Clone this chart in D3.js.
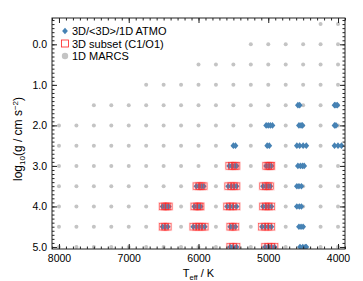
<!DOCTYPE html>
<html>
<head>
<meta charset="utf-8">
<script src="https://cdnjs.cloudflare.com/ajax/libs/d3/7.8.5/d3.min.js"></script>
<style>
body { margin: 0; background: #fff; }
svg text { font-family: "Liberation Sans", Arial, Helvetica, sans-serif; fill: #000; }
</style>
</head>
<body>
<div id="chart"></div>
<script>
// 1D MARCS grid: each row runs from its hottest Teff down to 4000 K
var marcsLogg = [-0.5, 0.0, 0.5, 1.0, 1.5, 2.0, 2.5, 3.0, 3.5, 4.0, 4.5, 5.0];
var marcsTmax = [4250, 5250, 6000, 6750, 7500, 8000, 8000, 8000, 8000, 8000, 8000, 8000];
var marcsTeff = [8000, 7750, 7500, 7250, 7000, 6750, 6500, 6250, 6000,
                 5750, 5500, 5250, 5000, 4750, 4500, 4250, 4000];

// 3D/<3D>/1D ATMO models, one Teff list per logg row
var atmoLogg = [1.5, 2.0, 2.5, 3.0, 3.5, 4.0, 4.5, 5.0];
var atmoTeff = [
  [4575, 4550, 4050, 4030, 4010],
  [5030, 5000, 4970, 4940, 4560, 4530, 4510, 4050, 4030],
  [5500, 5470, 5015, 4985, 4590, 4550, 4500, 4455, 4050, 4000, 3950],
  [5560, 5520, 5480, 5455, 5030, 5000, 4975, 4955, 4575, 4540, 4510, 4485],
  [6030, 5990, 5955, 5925, 5575, 5530, 5490, 5455, 5075, 5035, 5000, 4970, 4590, 4560, 4525],
  [6515, 6480, 6450, 6425, 6060, 6020, 5990, 5970, 5590, 5550, 5510, 5455, 5075, 5035, 4995, 4955, 4590, 4555, 4525],
  [6515, 6480, 6440, 6075, 6030, 5990, 5950, 5910, 5545, 5510, 5470, 5090, 5045, 5000, 4955, 4560, 4530, 4500],
  [5545, 5505, 5455, 5045, 5000, 4955, 4910, 4545, 4505, 4470, 4455]
];

// 3D subset (C1/O1)
var subsetLogg = [3.0, 3.5, 4.0, 4.5, 5.0];
var subsetTeff = [
  [5560, 5520, 5480, 5455, 5030, 5000, 4975, 4955],
  [6030, 5990, 5955, 5925, 5575, 5530, 5490, 5455, 5075, 5035, 5000, 4970],
  [6515, 6480, 6450, 6425, 6060, 6020, 5990, 5970, 5590, 5550, 5510, 5455, 5075, 5035, 4995, 4955],
  [6515, 6480, 6440, 6075, 6030, 5990, 5950, 5910, 5545, 5510, 5470, 5090, 5045, 5000, 4955],
  [5545, 5505, 5455, 5045, 5000, 4955, 4910]
];

var legendLabels = ['3D/<3D>/1D ATMO', '3D subset (C1/O1)', '1D MARCS'];
var xTicks = [8000, 7000, 6000, 5000, 4000];
var yTicks = [0, 1, 2, 3, 4, 5];

var w = 363, h = 281;
var mLeft = 52, mRight = 345, mTop = 18, mBottom = 249;
var blue = '#4682b4', red = '#f22', grey = '#c4c4c4';

var svg = d3.select('#chart').append('svg')
            .attr('width', w)
            .attr('height', h);

var xScale = d3.scaleLinear().domain([8100, 3900]).range([mLeft, mRight]);
var yScale = d3.scaleLinear().domain([-0.65, 5.05]).range([mTop, mBottom]);

// flatten rows into points
var marcs = [];
marcsLogg.forEach(function(g, i) {
  marcsTeff.filter(t => t <= marcsTmax[i]).forEach(t => marcs.push({t: t, g: g}));
});
var atmo = [];
atmoLogg.forEach((g, i) => atmoTeff[i].forEach(t => atmo.push({t: t, g: g})));
var subset = [];
subsetLogg.forEach((g, i) => subsetTeff[i].forEach(t => subset.push({t: t, g: g})));

var diamond = {
  draw: function(ctx, size) {
    var a = 2.9, b = 3.3;
    ctx.moveTo(0, -b); ctx.lineTo(a, 0); ctx.lineTo(0, b); ctx.lineTo(-a, 0); ctx.closePath();
  }
};
var diamondPath = d3.symbol().type(diamond)();

// clip marks to the frame
svg.append('clipPath').attr('id', 'clip')
   .append('rect').attr('x', mLeft).attr('y', mTop)
   .attr('width', mRight - mLeft).attr('height', mBottom - mTop);

var plot = svg.append('g').attr('clip-path', 'url(#clip)');

plot.selectAll('circle.marcs')
  .data(marcs)
  .enter()
  .append('circle')
  .attr('class', 'marcs')
  .attr('cx', d => xScale(d.t))
  .attr('cy', d => yScale(d.g))
  .attr('r', 2)
  .attr('fill', grey);

plot.selectAll('path.atmo')
  .data(atmo)
  .enter()
  .append('path')
  .attr('class', 'atmo')
  .attr('d', diamondPath)
  .attr('transform', d => `translate(${xScale(d.t)},${yScale(d.g)})`)
  .attr('fill', blue);

// red open squares with a soft halo
var sq = 6.6;
plot.selectAll('rect.halo')
  .data(subset)
  .enter()
  .append('rect')
  .attr('class', 'halo')
  .attr('x', d => xScale(d.t) - sq / 2)
  .attr('y', d => yScale(d.g) - sq / 2)
  .attr('width', sq)
  .attr('height', sq)
  .attr('fill', 'none')
  .attr('stroke', 'rgba(255,90,90,0.22)')
  .attr('stroke-width', 2.2);

plot.selectAll('rect.subset')
  .data(subset)
  .enter()
  .append('rect')
  .attr('class', 'subset')
  .attr('x', d => xScale(d.t) - sq / 2)
  .attr('y', d => yScale(d.g) - sq / 2)
  .attr('width', sq)
  .attr('height', sq)
  .attr('fill', 'none')
  .attr('stroke', red)
  .attr('stroke-opacity', 0.8)
  .attr('stroke-width', 0.6);

// axes: inward ticks on all four sides
var xMinor = d3.range(3900, 8101, 100);
var yMinor = d3.range(-6, 51).map(v => v / 10);

function addAxis(axis, tx, ty, cls) {
  var g = svg.append('g')
             .attr('class', cls)
             .attr('transform', `translate(${tx},${ty})`)
             .call(axis);
  g.select('.domain').remove();
  g.selectAll('line').attr('stroke', '#222');
  return g;
}

addAxis(d3.axisBottom(xScale).tickValues(xMinor).tickSize(-2.5).tickFormat(''), 0, mBottom, 'xminor');
addAxis(d3.axisTop(xScale).tickValues(xMinor).tickSize(-2.5).tickFormat(''), 0, mTop, 'xminor');
addAxis(d3.axisLeft(yScale).tickValues(yMinor).tickSize(-2.5).tickFormat(''), mLeft, 0, 'yminor');
addAxis(d3.axisRight(yScale).tickValues(yMinor).tickSize(-2.5).tickFormat(''), mRight, 0, 'yminor');

addAxis(d3.axisBottom(xScale).tickValues(xTicks).tickSize(-5).tickPadding(6).tickFormat(d3.format('d')), 0, mBottom, 'xaxis');
addAxis(d3.axisTop(xScale).tickValues(xTicks).tickSize(-5).tickFormat(''), 0, mTop, 'xaxis');
addAxis(d3.axisLeft(yScale).tickValues(yTicks).tickSize(-5).tickPadding(5).tickFormat(d3.format('.1f')), mLeft, 0, 'yaxis');
addAxis(d3.axisRight(yScale).tickValues(yTicks).tickSize(-5).tickFormat(''), mRight, 0, 'yaxis');

svg.selectAll('.xaxis text, .yaxis text')
   .attr('font-size', 10.5)
   .attr('font-family', '"Liberation Sans", Arial, sans-serif')
   .attr('fill', '#000');

svg.append('rect')
   .attr('x', mLeft).attr('y', mTop)
   .attr('width', mRight - mLeft).attr('height', mBottom - mTop)
   .attr('fill', 'none').attr('stroke', '#222').attr('stroke-width', 1);

// axis titles
var xt = svg.append('text')
            .attr('x', (mLeft + mRight) / 2)
            .attr('y', 277)
            .attr('text-anchor', 'middle')
            .attr('font-size', 11);
xt.append('tspan').text('T');
xt.append('tspan').attr('font-size', 7.5).attr('dy', 2.5).text('eff');
xt.append('tspan').attr('dy', -2.5).text(' / K');

var yt = svg.append('text')
            .attr('transform', 'translate(22,139) rotate(-90)')
            .attr('text-anchor', 'middle')
            .attr('font-size', 12);
yt.append('tspan').text('log');
yt.append('tspan').attr('font-size', 8).attr('dy', 2.5).text('10');
yt.append('tspan').attr('dy', -2.5).text('(g / cm s');
yt.append('tspan').attr('font-size', 8).attr('dy', -4.5).text('\u22122');
yt.append('tspan').attr('dy', 4.5).text(')');

// legend
var legend = svg.append('g').attr('transform', 'translate(65,31)');
legend.append('path').attr('d', diamondPath).attr('fill', blue);
legend.append('rect').attr('x', -3.5).attr('y', 12.5 - 3.5).attr('width', 7).attr('height', 7)
      .attr('fill', '#fff').attr('stroke', red).attr('stroke-width', 0.8);
legend.append('circle').attr('cx', 0).attr('cy', 25).attr('r', 3.2).attr('fill', grey);
legend.selectAll('text.leg')
      .data(legendLabels)
      .enter()
      .append('text')
      .attr('class', 'leg')
      .attr('x', 7)
      .attr('y', (d, i) => i * 12.5 + 4)
      .attr('font-size', 11)
      .text(d => d);
</script>
</body>
</html>
